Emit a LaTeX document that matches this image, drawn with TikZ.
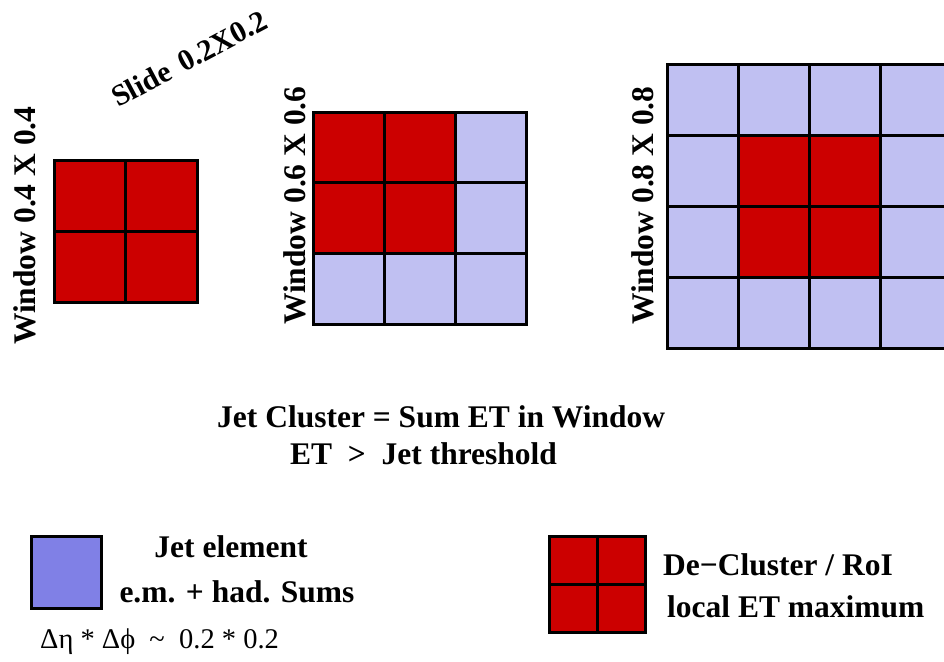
\documentclass[tikz,border=0pt]{standalone}
\usepackage{fontspec}
\setmainfont{Liberation Serif}
\usetikzlibrary{positioning}
\definecolor{CRed}{HTML}{CC0000}
\definecolor{CLilac}{HTML}{C0C0F2}
\definecolor{CViolet}{HTML}{8080E6}
\newcommand{\drawCell}[4]{%
    % one tower cell: x, y, size, colour
    \filldraw[fill=#4, draw=black, line width=3pt] (#1,#2) rectangle ++(#3,#3);
}
\tikzset{
    lbl/.style={inner sep=0pt, anchor=base west, font=\bfseries\fontsize{31.5}{37}\selectfont},
    vlbl/.style={inner sep=0pt, anchor=base west, rotate=90, font=\bfseries\fontsize{31.5}{37}\selectfont}
}

\begin{document}
\begin{tikzpicture}[x=1pt, y=-1pt]
    \useasboundingbox (0,0) rectangle (944,661);
    \clip (0,0) rectangle (944,661);

    % --- 1. WINDOWS ---

    % Window 0.4 x 0.4 (all red)
    \foreach \i in {0,1} {
        \foreach \j in {0,1} {
            \drawCell{54+71.5*\i}{160+71*\j}{71.5}{CRed}
        }
    }

    % Window 0.6 x 0.6 (red corner)
    \foreach \i in {0,1,2} {
        \foreach \j in {0,1,2} {
            \pgfmathsetmacro{\isred}{(\i<2)&&(\j<2)}
            \ifdim\isred pt>0.5pt
                \drawCell{313+71.3*\i}{112+70.7*\j}{71.3}{CRed}
            \else
                \drawCell{313+71.3*\i}{112+70.7*\j}{71.3}{CLilac}
            \fi
        }
    }

    % Window 0.8 x 0.8 (red centre)
    \foreach \i in {0,1,2,3} {
        \foreach \j in {0,1,2,3} {
            \pgfmathsetmacro{\isred}{(\i>0)&&(\i<3)&&(\j>0)&&(\j<3)}
            \ifdim\isred pt>0.5pt
                \drawCell{667+71*\i}{64+71*\j}{71}{CRed}
            \else
                \drawCell{667+71*\i}{64+71*\j}{71}{CLilac}
            \fi
        }
    }

    % --- 2. WINDOW LABELS ---
    \node[vlbl] (winA) at (35,345) {Window 0.4 X 0.4};
    \node[vlbl] (winB) at (305,325) {Window 0.6 X 0.6};
    \node[vlbl] (winC) at (653,325) {Window 0.8 X 0.8};
    \node[lbl, rotate=28, font=\bfseries\fontsize{30}{37}\selectfont] (slide) at (118,108) {Slide\ \hspace{4pt}0.2X0.2};

    % --- 3. CLUSTER CONDITION ---
    \node[lbl] (sumET) at (217,427) {Jet Cluster = Sum ET in Window};
    \node[lbl] (thresh) at (290,464) {ET\ \ >\ \ Jet threshold};

    % --- 4. LEGEND ---
    \filldraw[fill=CViolet, draw=black, line width=3pt] (31,536) rectangle (101,608);
    \node[lbl, anchor=base] (elemA) at (231,557) {Jet element};
    \node[lbl, anchor=base] (elemB) at (237,602) {e.m. + had. Sums};
    \node[lbl, font=\fontsize{28.5}{37}\selectfont] (granul) at (40,648) {Δη * Δϕ\ \ \textasciitilde\ \ 0.2 * 0.2};

    \foreach \i in {0,1} {
        \foreach \j in {0,1} {
            \drawCell{549+48*\i}{536+48*\j}{48}{CRed}
        }
    }
    \node[lbl] (roiA) at (663,575) {De−Cluster / RoI};
    \node[lbl] (roiB) at (667,617) {local ET maximum};

\end{tikzpicture}
\end{document}
